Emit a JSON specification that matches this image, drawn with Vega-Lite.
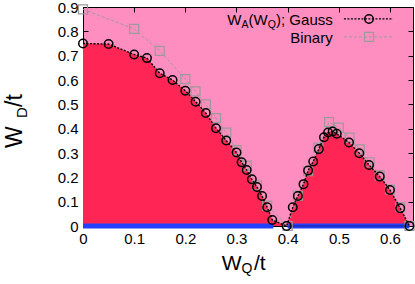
{
  "$schema": "https://vega.github.io/schema/vega-lite/v6.json",
  "width": 330,
  "height": 219,
  "autosize": "none",
  "padding": {"left": 83, "top": 7, "right": 2, "bottom": 58},
  "background": "white",
  "config": {
    "view": {"fill": "#ff8ec0", "stroke": "black", "strokeWidth": 1},
    "font": "Liberation Sans"
  },
  "datasets": {
    "gauss": [
      {"wq": 0.000, "wd": 0.750, "dome": 1},
      {"wq": 0.050, "wd": 0.748, "dome": 1},
      {"wq": 0.100, "wd": 0.705, "dome": 1},
      {"wq": 0.125, "wd": 0.690, "dome": 1},
      {"wq": 0.150, "wd": 0.628, "dome": 1},
      {"wq": 0.175, "wd": 0.600, "dome": 1},
      {"wq": 0.200, "wd": 0.556, "dome": 1},
      {"wq": 0.220, "wd": 0.511, "dome": 1},
      {"wq": 0.240, "wd": 0.464, "dome": 1},
      {"wq": 0.260, "wd": 0.402, "dome": 1},
      {"wq": 0.280, "wd": 0.351, "dome": 1},
      {"wq": 0.300, "wd": 0.302, "dome": 1},
      {"wq": 0.310, "wd": 0.262, "dome": 1},
      {"wq": 0.320, "wd": 0.230, "dome": 1},
      {"wq": 0.330, "wd": 0.192, "dome": 1},
      {"wq": 0.340, "wd": 0.160, "dome": 1},
      {"wq": 0.350, "wd": 0.123, "dome": 1},
      {"wq": 0.360, "wd": 0.077, "dome": 1},
      {"wq": 0.370, "wd": 0.025, "dome": 1},
      {"wq": 0.398, "wd": 0.000, "dome": 2},
      {"wq": 0.410, "wd": 0.077, "dome": 2},
      {"wq": 0.420, "wd": 0.123, "dome": 2},
      {"wq": 0.431, "wd": 0.172, "dome": 2},
      {"wq": 0.440, "wd": 0.228, "dome": 2},
      {"wq": 0.450, "wd": 0.265, "dome": 2},
      {"wq": 0.461, "wd": 0.316, "dome": 2},
      {"wq": 0.471, "wd": 0.365, "dome": 2},
      {"wq": 0.479, "wd": 0.384, "dome": 2},
      {"wq": 0.488, "wd": 0.388, "dome": 2},
      {"wq": 0.496, "wd": 0.379, "dome": 2},
      {"wq": 0.520, "wd": 0.343, "dome": 2},
      {"wq": 0.540, "wd": 0.299, "dome": 2},
      {"wq": 0.559, "wd": 0.251, "dome": 2},
      {"wq": 0.580, "wd": 0.203, "dome": 2},
      {"wq": 0.600, "wd": 0.148, "dome": 2},
      {"wq": 0.620, "wd": 0.073, "dome": 2},
      {"wq": 0.638, "wd": 0.000, "dome": 2}
    ],
    "binary": [
      {"wq": 0.000, "wd": 0.890},
      {"wq": 0.100, "wd": 0.810},
      {"wq": 0.150, "wd": 0.720},
      {"wq": 0.200, "wd": 0.604},
      {"wq": 0.220, "wd": 0.553},
      {"wq": 0.240, "wd": 0.500},
      {"wq": 0.260, "wd": 0.443},
      {"wq": 0.280, "wd": 0.384},
      {"wq": 0.300, "wd": 0.312},
      {"wq": 0.320, "wd": 0.248},
      {"wq": 0.340, "wd": 0.167},
      {"wq": 0.360, "wd": 0.084},
      {"wq": 0.400, "wd": 0.000},
      {"wq": 0.420, "wd": 0.125},
      {"wq": 0.440, "wd": 0.225},
      {"wq": 0.460, "wd": 0.322},
      {"wq": 0.481, "wd": 0.427},
      {"wq": 0.500, "wd": 0.404},
      {"wq": 0.521, "wd": 0.363},
      {"wq": 0.541, "wd": 0.315},
      {"wq": 0.560, "wd": 0.262},
      {"wq": 0.580, "wd": 0.208},
      {"wq": 0.600, "wd": 0.150},
      {"wq": 0.620, "wd": 0.078},
      {"wq": 0.638, "wd": 0.000}
    ],
    "bars": [
      {"start": 0.0, "end": 0.372, "seg": 1, "level": 0},
      {"start": 0.400, "end": 0.638, "seg": 2, "level": 0}
    ]
  },
  "layer": [
    {
      "data": {"name": "gauss"},
      "mark": {"type": "area", "color": "#ff2655", "opacity": 1},
      "encoding": {
        "x": {"field": "wq", "type": "quantitative", "scale": {"domain": [0, 0.645], "nice": false, "zero": false},
              "axis": {"orient": "bottom", "values": [0, 0.1, 0.2, 0.3, 0.4, 0.5, 0.6], "format": "~g", "tickSize": -5, "tickColor": "black", "domain": false, "grid": false, "labelFont": "Liberation Sans", "labelFontSize": 15, "labelColor": "black", "labelPadding": 10, "labelOverlap": false, "labelFlush": false, "title": null}},
        "y": {"field": "wd", "type": "quantitative", "scale": {"domain": [0, 0.9], "nice": false, "zero": false},
              "axis": {"orient": "left", "values": [0, 0.1, 0.2, 0.3, 0.4, 0.5, 0.6, 0.7, 0.8, 0.9], "format": "~g", "tickSize": -5, "tickColor": "black", "domain": false, "grid": false, "labelFont": "Liberation Sans", "labelFontSize": 15, "labelColor": "black", "labelPadding": 10, "labelOverlap": false, "labelFlush": false, "title": null}},
        "detail": {"field": "dome", "type": "nominal"}
      }
    },
    {
      "data": {"name": "bars"},
      "mark": {"type": "rule", "color": "#2440ff", "strokeWidth": 5},
      "encoding": {
        "x": {"field": "start", "type": "quantitative",
              "axis": {"orient": "top", "values": [0, 0.1, 0.2, 0.3, 0.4, 0.5, 0.6], "tickSize": -5, "tickColor": "black", "domain": false, "grid": false, "labels": false, "title": null}},
        "x2": {"field": "end"},
        "y": {"field": "level", "type": "quantitative",
              "axis": {"orient": "right", "values": [0, 0.1, 0.2, 0.3, 0.4, 0.5, 0.6, 0.7, 0.8, 0.9], "tickSize": -5, "tickColor": "black", "domain": false, "grid": false, "labels": false, "title": null}}
      }
    },
    {
      "data": {"name": "bars"},
      "transform": [{"filter": "datum.seg == 2"}],
      "mark": {"type": "rule", "color": "#18228a", "strokeWidth": 1.2},
      "encoding": {
        "x": {"field": "start", "type": "quantitative", "axis": null},
        "x2": {"field": "end"},
        "y": {"field": "level", "type": "quantitative", "axis": null}
      }
    },
    {
      "data": {"name": "binary"},
      "mark": {"type": "line", "color": "#9a9a9a", "strokeWidth": 1, "strokeDash": [3, 2]},
      "encoding": {
        "x": {"field": "wq", "type": "quantitative", "axis": null},
        "y": {"field": "wd", "type": "quantitative", "axis": null}
      }
    },
    {
      "data": {"name": "binary"},
      "mark": {"type": "point", "shape": "square", "filled": false, "color": "#9a9a9a", "size": 81, "strokeWidth": 1.2, "opacity": 1},
      "encoding": {
        "x": {"field": "wq", "type": "quantitative", "axis": null},
        "y": {"field": "wd", "type": "quantitative", "axis": null}
      }
    },
    {
      "data": {"name": "gauss"},
      "mark": {"type": "line", "color": "black", "strokeWidth": 1.4, "strokeDash": [2, 1.5]},
      "encoding": {
        "x": {"field": "wq", "type": "quantitative", "axis": null},
        "y": {"field": "wd", "type": "quantitative", "axis": null}
      }
    },
    {
      "data": {"name": "gauss"},
      "mark": {"type": "point", "shape": "circle", "filled": false, "color": "black", "size": 72, "strokeWidth": 1.5, "opacity": 1},
      "encoding": {
        "x": {"field": "wq", "type": "quantitative", "axis": null},
        "y": {"field": "wd", "type": "quantitative", "axis": null}
      }
    },
    {
      "data": {"values": [{}]},
      "mark": {"type": "rule", "color": "black", "strokeWidth": 1.4, "strokeDash": [2, 1.5]},
      "encoding": {
        "x": {"datum": 0.510, "type": "quantitative", "axis": null},
        "x2": {"datum": 0.606},
        "y": {"datum": 0.851, "type": "quantitative", "axis": null}
      }
    },
    {
      "data": {"values": [{}]},
      "mark": {"type": "point", "shape": "circle", "filled": false, "color": "black", "size": 72, "strokeWidth": 1.5, "opacity": 1},
      "encoding": {
        "x": {"datum": 0.559, "type": "quantitative", "axis": null},
        "y": {"datum": 0.851, "type": "quantitative", "axis": null}
      }
    },
    {
      "data": {"values": [{}]},
      "mark": {"type": "rule", "color": "#9a9a9a", "strokeWidth": 1, "strokeDash": [3, 2]},
      "encoding": {
        "x": {"datum": 0.510, "type": "quantitative", "axis": null},
        "x2": {"datum": 0.606},
        "y": {"datum": 0.777, "type": "quantitative", "axis": null}
      }
    },
    {
      "data": {"values": [{}]},
      "mark": {"type": "point", "shape": "square", "filled": false, "color": "#9a9a9a", "size": 81, "strokeWidth": 1.2, "opacity": 1},
      "encoding": {
        "x": {"datum": 0.559, "type": "quantitative", "axis": null},
        "y": {"datum": 0.777, "type": "quantitative", "axis": null}
      }
    },
    {
      "data": {"values": [{}]},
      "mark": {"type": "text", "text": "W", "font": "Liberation Sans", "fontSize": 15, "align": "left", "baseline": "alphabetic", "color": "black"},
      "encoding": {"x": {"datum": 0.2821, "type": "quantitative", "axis": null}, "y": {"datum": 0.828, "type": "quantitative", "axis": null}}
    },
    {
      "data": {"values": [{}]},
      "mark": {"type": "text", "text": "A", "font": "Liberation Sans", "fontSize": 10.5, "align": "left", "baseline": "alphabetic", "color": "black"},
      "encoding": {"x": {"datum": 0.3097, "type": "quantitative", "axis": null}, "y": {"datum": 0.814, "type": "quantitative", "axis": null}}
    },
    {
      "data": {"values": [{}]},
      "mark": {"type": "text", "text": "(W", "font": "Liberation Sans", "fontSize": 15, "align": "left", "baseline": "alphabetic", "color": "black"},
      "encoding": {"x": {"datum": 0.3235, "type": "quantitative", "axis": null}, "y": {"datum": 0.828, "type": "quantitative", "axis": null}}
    },
    {
      "data": {"values": [{}]},
      "mark": {"type": "text", "text": "Q", "font": "Liberation Sans", "fontSize": 10.5, "align": "left", "baseline": "alphabetic", "color": "black"},
      "encoding": {"x": {"datum": 0.3610, "type": "quantitative", "axis": null}, "y": {"datum": 0.814, "type": "quantitative", "axis": null}}
    },
    {
      "data": {"values": [{}]},
      "mark": {"type": "text", "text": "); Gauss", "font": "Liberation Sans", "fontSize": 15, "align": "right", "baseline": "alphabetic", "color": "black"},
      "encoding": {"x": {"datum": 0.4881, "type": "quantitative", "axis": null}, "y": {"datum": 0.828, "type": "quantitative", "axis": null}}
    },
    {
      "data": {"values": [{}]},
      "mark": {"type": "text", "text": "Binary", "font": "Liberation Sans", "fontSize": 15, "align": "right", "baseline": "alphabetic", "color": "black"},
      "encoding": {"x": {"datum": 0.4881, "type": "quantitative", "axis": null}, "y": {"datum": 0.754, "type": "quantitative", "axis": null}}
    },
    {
      "data": {"values": [{}]},
      "mark": {"type": "text", "text": "W", "font": "Liberation Sans", "fontSize": 21, "align": "left", "baseline": "alphabetic", "color": "black"},
      "encoding": {"x": {"datum": 0.2711, "type": "quantitative", "axis": null}, "y": {"datum": -0.181, "type": "quantitative", "axis": null}}
    },
    {
      "data": {"values": [{}]},
      "mark": {"type": "text", "text": "Q", "font": "Liberation Sans", "fontSize": 14, "align": "left", "baseline": "alphabetic", "color": "black"},
      "encoding": {"x": {"datum": 0.3096, "type": "quantitative", "axis": null}, "y": {"datum": -0.193, "type": "quantitative", "axis": null}}
    },
    {
      "data": {"values": [{}]},
      "mark": {"type": "text", "text": "/t", "font": "Liberation Sans", "fontSize": 21, "align": "left", "baseline": "alphabetic", "color": "black"},
      "encoding": {"x": {"datum": 0.3340, "type": "quantitative", "axis": null}, "y": {"datum": -0.181, "type": "quantitative", "axis": null}}
    },
    {
      "data": {"values": [{}]},
      "mark": {"type": "text", "text": "W", "font": "Liberation Sans", "fontSize": 23, "angle": 270, "align": "left", "baseline": "alphabetic", "color": "black"},
      "encoding": {"x": {"datum": -0.1192, "type": "quantitative", "axis": null}, "y": {"datum": 0.3206, "type": "quantitative", "axis": null}}
    },
    {
      "data": {"values": [{}]},
      "mark": {"type": "text", "text": "D", "font": "Liberation Sans", "fontSize": 15, "angle": 270, "align": "left", "baseline": "alphabetic", "color": "black"},
      "encoding": {"x": {"datum": -0.1095, "type": "quantitative", "axis": null}, "y": {"datum": 0.4439, "type": "quantitative", "axis": null}}
    },
    {
      "data": {"values": [{}]},
      "mark": {"type": "text", "text": "/t", "font": "Liberation Sans", "fontSize": 23, "angle": 270, "align": "left", "baseline": "alphabetic", "color": "black"},
      "encoding": {"x": {"datum": -0.1192, "type": "quantitative", "axis": null}, "y": {"datum": 0.4891, "type": "quantitative", "axis": null}}
    }
  ]
}
